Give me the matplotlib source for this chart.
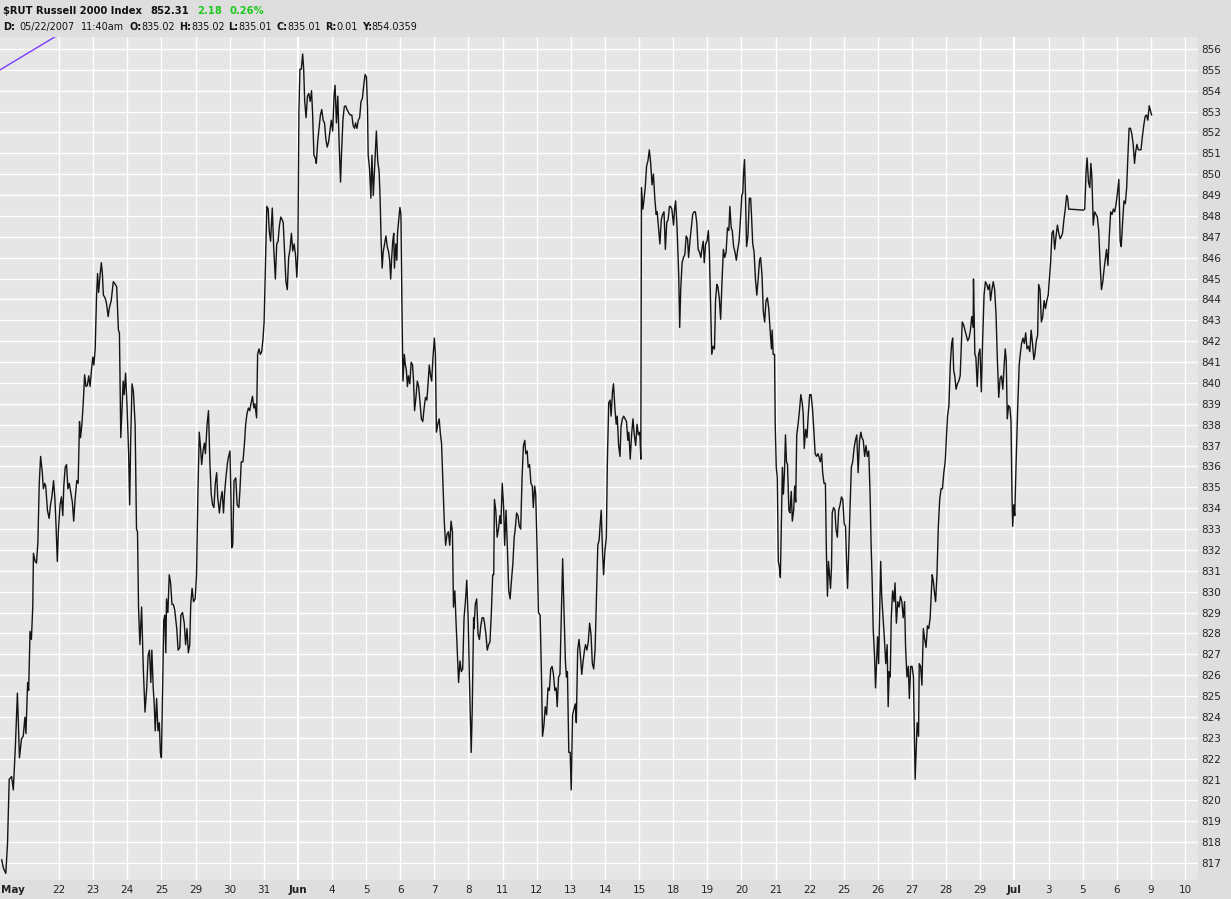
import matplotlib
matplotlib.use('Agg')
import matplotlib.pyplot as plt

# x axis: trading-day index (0 = May 21 ... 34 = Jul 10), y axis: index level
day_labels = ['May', '22', '23', '24', '25', '29', '30', '31', 'Jun', '4', '5', '6', '7', '8',
              '11', '12', '13', '14', '15', '18', '19', '20', '21', '22', '25', '26', '27',
              '28', '29', 'Jul', '3', '5', '6', '9', '10']
month_labels = ['May', 'Jun', 'Jul']
y_ticks = list(range(817, 857))

# $RUT intraday trace: (day index, level)
may_pts = [
    (-0.68, 817.15), (-0.63, 816.76), (-0.56, 816.5), (-0.51, 817.92), (-0.46, 821.01), (-0.39, 821.14),
    (-0.34, 820.5), (-0.28, 822.56), (-0.22, 825.14), (-0.16, 822.04), (-0.10, 822.95), (-0.05, 823.07),
    (0.00, 823.98), (0.03, 823.2), (0.08, 825.65), (0.11, 825.27), (0.15, 828.1), (0.19, 827.71),
    (0.23, 829.26), (0.25, 831.84), (0.30, 831.45), (0.34, 831.37), (0.38, 832.35), (0.42, 835.19),
    (0.46, 836.48), (0.51, 835.7), (0.54, 834.93), (0.58, 835.19), (0.61, 835.06), (0.66, 833.9),
    (0.71, 833.51), (0.75, 834.16), (0.79, 834.54), (0.84, 835.32), (0.88, 834.42), (0.91, 833.26),
    (0.95, 831.45), (0.98, 832.87), (1.03, 834.16), (1.07, 834.54), (1.11, 833.64), (1.14, 835.06),
    (1.18, 835.96), (1.22, 836.09), (1.26, 834.93), (1.30, 835.19), (1.34, 834.8), (1.39, 834.29),
    (1.43, 833.38), (1.47, 834.42), (1.52, 835.32), (1.56, 835.19), (1.60, 838.15), (1.63, 837.38),
    (1.67, 838.02), (1.71, 839.05), (1.75, 840.39), (1.79, 839.83), (1.83, 839.88), (1.87, 840.34),
    (1.91, 839.83), (1.95, 840.6), (1.99, 841.24), (2.02, 840.86), (2.06, 841.63), (2.10, 844.21),
    (2.13, 845.24), (2.16, 844.34), (2.20, 845.11), (2.24, 845.76), (2.27, 845.24), (2.30, 844.21),
    (2.35, 844.08), (2.39, 843.82), (2.44, 843.18), (2.47, 843.56), (2.53, 843.95), (2.59, 844.85),
    (2.63, 844.78), (2.69, 844.6), (2.74, 842.53), (2.77, 842.4), (2.81, 837.38), (2.85, 838.92),
    (2.88, 840.09), (2.91, 839.44), (2.95, 840.47), (2.99, 839.05), (3.04, 836.61), (3.07, 834.16),
    (3.10, 837.25), (3.14, 839.96), (3.18, 839.57), (3.23, 838.02), (3.27, 833.0), (3.30, 832.87),
    (3.33, 829.26), (3.37, 827.46), (3.42, 829.26), (3.47, 826.3), (3.52, 824.23), (3.57, 825.39),
    (3.61, 826.94), (3.65, 827.2), (3.69, 825.65), (3.72, 827.2), (3.76, 825.39), (3.79, 824.62),
    (3.82, 823.33), (3.86, 824.88), (3.90, 823.33), (3.94, 823.72), (3.97, 822.3), (4.00, 822.04),
    (4.04, 825.65), (4.07, 828.62), (4.10, 828.87), (4.13, 827.07), (4.15, 829.65), (4.19, 829.0),
    (4.23, 830.81), (4.27, 830.42), (4.31, 829.39), (4.35, 829.39), (4.39, 829.13), (4.45, 828.23),
    (4.49, 827.2), (4.54, 827.33), (4.57, 828.87), (4.62, 829.0), (4.67, 828.49), (4.71, 827.46),
    (4.75, 828.23), (4.79, 827.07), (4.83, 827.46), (4.86, 829.39), (4.90, 830.16), (4.94, 829.52),
    (4.99, 829.65), (5.03, 830.81), (5.07, 834.67), (5.11, 837.64), (5.15, 836.86), (5.18, 836.09),
    (5.22, 836.74), (5.26, 837.12), (5.29, 836.61), (5.34, 838.02), (5.38, 838.67), (5.42, 836.22),
    (5.46, 834.67), (5.50, 834.16), (5.54, 834.03), (5.58, 835.19), (5.62, 835.7), (5.65, 834.54),
    (5.70, 833.77), (5.74, 834.42), (5.78, 834.8), (5.82, 833.77), (5.85, 834.67), (5.89, 835.45),
    (5.94, 836.22), (5.97, 836.48), (6.01, 836.74), (6.04, 834.42), (6.06, 832.1), (6.09, 832.22),
    (6.13, 835.32), (6.18, 835.45), (6.22, 834.16), (6.27, 834.03), (6.30, 834.8), (6.34, 836.22),
    (6.39, 836.22), (6.43, 837.0), (6.47, 838.02), (6.51, 838.54), (6.55, 838.8), (6.59, 838.67),
    (6.63, 839.05), (6.67, 839.36), (6.71, 838.8), (6.74, 839.0), (6.79, 838.33), (6.82, 841.37),
    (6.86, 841.63), (6.90, 841.37), (6.94, 841.5), (6.98, 842.15), (7.01, 842.92), (7.05, 845.76),
    (7.09, 848.46), (7.13, 848.33), (7.16, 847.3), (7.20, 846.79), (7.25, 848.38), (7.29, 846.53),
    (7.34, 844.98), (7.38, 846.66), (7.42, 846.79), (7.46, 847.56), (7.50, 847.95), (7.54, 847.82),
    (7.57, 847.69), (7.61, 846.27), (7.65, 844.85), (7.69, 844.47), (7.73, 846.01), (7.77, 846.4),
    (7.81, 847.17), (7.85, 846.32), (7.89, 846.66), (7.93, 846.14), (7.97, 845.06),
]

jun_early_pts = [
    (8.00, 846.27), (8.03, 852.97), (8.06, 855.03), (8.10, 855.03), (8.14, 855.76), (8.17, 855.03),
    (8.20, 853.49), (8.24, 852.71), (8.28, 853.74), (8.32, 853.87), (8.36, 853.49), (8.40, 854.0),
    (8.43, 852.97), (8.47, 850.91), (8.51, 850.78), (8.54, 850.52), (8.58, 851.55), (8.62, 852.2),
    (8.66, 852.84), (8.70, 853.1), (8.74, 852.59), (8.78, 852.46), (8.82, 851.68), (8.86, 851.3),
    (8.90, 851.55), (8.94, 852.07), (8.98, 852.59), (9.02, 852.07), (9.06, 853.74), (9.09, 854.26),
    (9.13, 852.46), (9.17, 853.74), (9.21, 851.43), (9.25, 849.62), (9.28, 851.04), (9.32, 852.59),
    (9.36, 853.23), (9.40, 853.28), (9.44, 853.1), (9.48, 852.97), (9.53, 852.84), (9.58, 852.84),
    (9.62, 852.33), (9.66, 852.2), (9.69, 852.46), (9.73, 852.2), (9.77, 852.59), (9.81, 852.71),
    (9.85, 853.49), (9.89, 853.62), (9.93, 854.26), (9.97, 854.78), (10.01, 854.65), (10.04, 853.23),
    (10.06, 850.91), (10.10, 850.27), (10.14, 848.85), (10.17, 850.91), (10.21, 848.98), (10.25, 850.39),
    (10.30, 852.07), (10.34, 850.65), (10.38, 850.14), (10.41, 848.85), (10.44, 846.79), (10.47, 845.5),
    (10.50, 846.27), (10.54, 846.66), (10.58, 847.04), (10.62, 846.53), (10.66, 846.27), (10.69, 845.88),
    (10.72, 844.98), (10.75, 846.01), (10.78, 846.79), (10.81, 847.17), (10.83, 845.5), (10.87, 846.66),
    (10.90, 845.88), (10.92, 847.17), (10.95, 847.69), (10.99, 848.41), (11.02, 848.07), (11.05, 843.69),
    (11.08, 840.09), (11.12, 841.37), (11.15, 840.86), (11.18, 840.6), (11.21, 839.83), (11.24, 840.34),
    (11.28, 839.96), (11.32, 840.99), (11.36, 840.86), (11.39, 840.09), (11.42, 838.67), (11.46, 839.31),
    (11.50, 840.09), (11.54, 839.83), (11.58, 839.05), (11.62, 838.28), (11.66, 838.15), (11.70, 838.8),
    (11.74, 839.31), (11.78, 839.18), (11.81, 839.83), (11.85, 840.86), (11.89, 840.34), (11.92, 840.09),
    (11.96, 841.24), (12.00, 842.15), (12.03, 841.37), (12.06, 837.64), (12.10, 838.02), (12.14, 838.28),
    (12.18, 837.51), (12.21, 837.12), (12.25, 835.19), (12.29, 833.38), (12.33, 832.22), (12.37, 832.74),
    (12.41, 832.87), (12.45, 832.22), (12.49, 833.38), (12.53, 832.87), (12.56, 829.26), (12.60, 830.04),
    (12.63, 828.75), (12.67, 827.2), (12.71, 825.65), (12.75, 826.68), (12.79, 826.17), (12.83, 826.3),
    (12.87, 828.75), (12.91, 829.52), (12.95, 830.55), (12.99, 828.75), (13.03, 825.65), (13.06, 823.59),
    (13.08, 822.3), (13.11, 824.36), (13.15, 828.75), (13.16, 828.23), (13.20, 829.39), (13.24, 829.65),
    (13.28, 827.97), (13.32, 827.71), (13.36, 828.36), (13.40, 828.75), (13.44, 828.75), (13.47, 828.49),
    (13.51, 827.97), (13.55, 827.2), (13.59, 827.46), (13.63, 827.59), (13.67, 829.0), (13.71, 830.81),
    (13.74, 830.81), (13.76, 834.42), (13.80, 833.9), (13.84, 832.61), (13.88, 833.0), (13.92, 833.64),
    (13.95, 833.26), (13.99, 835.19), (14.03, 834.03), (14.06, 832.22), (14.10, 833.9), (14.14, 832.1),
    (14.18, 830.04), (14.22, 829.65), (14.26, 830.55), (14.30, 831.33), (14.34, 832.61), (14.37, 833.0),
    (14.41, 833.77), (14.45, 833.64), (14.49, 833.13), (14.53, 833.0), (14.57, 835.45), (14.61, 837.0),
    (14.65, 837.25), (14.68, 836.61), (14.72, 836.74), (14.75, 835.96), (14.79, 836.09), (14.83, 835.19),
    (14.87, 835.06), (14.90, 834.03), (14.94, 835.06), (14.97, 834.67), (15.01, 832.1), (15.05, 829.0),
    (15.10, 828.87), (15.14, 825.91), (15.17, 823.07), (15.21, 823.59), (15.25, 824.49), (15.29, 824.1),
    (15.33, 825.39), (15.37, 825.27), (15.41, 826.3), (15.45, 826.42), (15.49, 826.04), (15.53, 825.27),
    (15.57, 825.39), (15.60, 824.49), (15.64, 825.91), (15.68, 826.04), (15.72, 828.75), (15.76, 831.58),
    (15.80, 829.0), (15.84, 826.68), (15.87, 825.91), (15.90, 826.17), (15.94, 822.3), (15.98, 822.3),
    (16.01, 820.5), (16.05, 824.1), (16.09, 824.36), (16.13, 824.62), (16.16, 823.72), (16.20, 827.2),
    (16.24, 827.71), (16.28, 826.94), (16.32, 826.04), (16.36, 826.68), (16.40, 827.2), (16.43, 827.46),
    (16.47, 827.2), (16.51, 827.59), (16.55, 828.49), (16.59, 827.97), (16.63, 826.55), (16.67, 826.3),
    (16.71, 827.2), (16.75, 829.78), (16.79, 832.22), (16.83, 832.48), (16.86, 833.26), (16.89, 833.9),
    (16.93, 831.84), (16.96, 830.81), (17.00, 831.97), (17.04, 832.61), (17.07, 836.22), (17.11, 839.05),
    (17.15, 839.18), (17.18, 838.41), (17.22, 839.57), (17.25, 839.96), (17.29, 838.8), (17.33, 838.02),
    (17.36, 838.41), (17.40, 837.0), (17.44, 836.48), (17.47, 837.9), (17.51, 838.28), (17.55, 838.41),
    (17.59, 838.28), (17.63, 838.15), (17.67, 837.25), (17.70, 837.64), (17.74, 836.35), (17.78, 837.51),
    (17.82, 838.28), (17.86, 837.51), (17.90, 837.0), (17.94, 838.02), (17.98, 837.51), (18.02, 837.64),
    (18.05, 836.35),
]

jun_late_pts = [
    (18.07, 849.36), (18.11, 848.33), (18.14, 848.72), (18.18, 849.36), (18.22, 850.39), (18.26, 850.65),
    (18.30, 851.17), (18.34, 850.52), (18.38, 849.49), (18.42, 850.01), (18.46, 848.85), (18.50, 848.07),
    (18.53, 848.2), (18.57, 847.43), (18.61, 846.66), (18.65, 847.82), (18.69, 848.07), (18.73, 848.2),
    (18.77, 846.4), (18.81, 847.69), (18.85, 847.82), (18.89, 848.46), (18.92, 848.46), (18.96, 848.33),
    (19.01, 847.56), (19.04, 848.33), (19.07, 848.72), (19.11, 847.56), (19.16, 845.24), (19.19, 842.66),
    (19.22, 844.47), (19.26, 845.76), (19.30, 846.01), (19.34, 846.14), (19.38, 847.04), (19.42, 846.91),
    (19.45, 846.01), (19.49, 846.79), (19.53, 847.43), (19.57, 848.07), (19.61, 848.2), (19.65, 848.2),
    (19.69, 847.69), (19.73, 846.4), (19.77, 846.27), (19.81, 846.01), (19.84, 846.4), (19.88, 846.79),
    (19.91, 845.76), (19.95, 846.66), (19.99, 846.79), (20.03, 847.3), (20.06, 846.27), (20.09, 844.21),
    (20.13, 841.37), (20.17, 841.76), (20.21, 841.63), (20.24, 843.95), (20.28, 844.72), (20.31, 844.6),
    (20.35, 844.08), (20.39, 843.05), (20.43, 844.85), (20.47, 846.4), (20.51, 846.01), (20.55, 846.27),
    (20.59, 847.43), (20.63, 847.3), (20.66, 848.46), (20.70, 847.43), (20.73, 847.3), (20.77, 846.53),
    (20.81, 846.27), (20.85, 845.88), (20.89, 846.4), (20.93, 846.79), (20.97, 847.82), (21.01, 848.98),
    (21.04, 849.11), (21.06, 850.01), (21.09, 850.7), (21.12, 848.85), (21.15, 846.53), (21.19, 847.04),
    (21.23, 848.85), (21.27, 848.85), (21.30, 847.82), (21.33, 846.66), (21.37, 846.27), (21.41, 844.98),
    (21.45, 844.21), (21.49, 844.98), (21.53, 845.88), (21.56, 846.01), (21.60, 845.24), (21.64, 843.44),
    (21.68, 842.92), (21.72, 843.95), (21.76, 844.08), (21.80, 843.56), (21.84, 842.53), (21.88, 841.63),
    (21.90, 842.53), (21.93, 841.37), (21.97, 841.37), (21.99, 838.02), (22.02, 835.96), (22.05, 835.45),
    (22.08, 831.45), (22.11, 831.2), (22.14, 830.68), (22.17, 833.38), (22.20, 835.96), (22.23, 834.67),
    (22.26, 835.7), (22.29, 837.51), (22.32, 836.22), (22.35, 836.09), (22.39, 833.9), (22.42, 833.77),
    (22.46, 834.8), (22.49, 833.38), (22.53, 833.9), (22.56, 835.06), (22.59, 834.29), (22.62, 837.51),
    (22.66, 838.02), (22.70, 838.67), (22.74, 839.44), (22.78, 839.05), (22.81, 838.54), (22.84, 836.86),
    (22.88, 837.77), (22.92, 837.38), (22.96, 838.54), (23.00, 839.44), (23.04, 839.44), (23.08, 838.8),
    (23.12, 837.77), (23.16, 836.61), (23.20, 836.48), (23.24, 836.61), (23.27, 836.48), (23.31, 836.22),
    (23.35, 836.61), (23.38, 835.7), (23.42, 835.19), (23.46, 835.19), (23.49, 831.84), (23.52, 829.78),
    (23.55, 831.45), (23.58, 830.81), (23.61, 830.16), (23.64, 831.2), (23.66, 833.77), (23.70, 834.03),
    (23.74, 833.9), (23.77, 833.0), (23.81, 832.61), (23.85, 833.9), (23.89, 834.16), (23.93, 834.54),
    (23.97, 834.42), (24.01, 833.26), (24.05, 833.13), (24.08, 831.45), (24.11, 830.16), (24.15, 832.35),
    (24.18, 833.9), (24.22, 835.96), (24.26, 836.22), (24.30, 836.86), (24.34, 837.25), (24.38, 837.51),
    (24.42, 835.7), (24.46, 837.25), (24.50, 837.64), (24.53, 837.38), (24.57, 837.25), (24.61, 836.48),
    (24.65, 837.0), (24.69, 836.48), (24.73, 836.74), (24.77, 834.67), (24.80, 832.22), (24.83, 830.55),
    (24.86, 828.23), (24.90, 826.94), (24.93, 825.39), (24.96, 826.68), (24.99, 827.84), (25.02, 826.55),
    (25.05, 829.0), (25.08, 831.45), (25.11, 829.78), (25.15, 828.75), (25.19, 827.71), (25.23, 826.55),
    (25.27, 827.46), (25.30, 824.49), (25.33, 826.17), (25.36, 825.91), (25.39, 828.75), (25.43, 830.04),
    (25.47, 829.52), (25.50, 830.42), (25.54, 828.49), (25.58, 829.52), (25.62, 829.26), (25.66, 829.78),
    (25.70, 829.52), (25.74, 828.75), (25.78, 829.52), (25.81, 827.33), (25.85, 825.91), (25.89, 826.42),
    (25.92, 824.88), (25.96, 826.42), (26.00, 826.42), (26.04, 825.91), (26.07, 823.07), (26.09, 821.01),
    (26.12, 822.3), (26.15, 823.72), (26.19, 823.07), (26.21, 826.55), (26.25, 826.42), (26.29, 825.52),
    (26.33, 828.23), (26.37, 827.71), (26.41, 827.33), (26.45, 828.36), (26.49, 828.23), (26.53, 828.75),
    (26.56, 829.78), (26.59, 830.81), (26.62, 830.55), (26.66, 829.91), (26.69, 829.52), (26.73, 830.81),
    (26.77, 833.13), (26.81, 834.42), (26.85, 834.93), (26.89, 834.93), (26.93, 835.7), (26.97, 836.22),
    (26.98, 836.48), (27.01, 837.51), (27.04, 838.41), (27.08, 838.92), (27.12, 840.86), (27.16, 841.89),
    (27.19, 842.15), (27.22, 840.6), (27.25, 840.34), (27.29, 839.7), (27.33, 839.96), (27.37, 840.09),
    (27.41, 840.34), (27.44, 841.63), (27.47, 842.92), (27.51, 842.79), (27.55, 842.53), (27.59, 842.28),
    (27.63, 842.02), (27.67, 842.15), (27.71, 842.53), (27.75, 843.18), (27.79, 842.66), (27.80, 844.98),
    (27.84, 841.37), (27.87, 841.24), (27.91, 839.83), (27.95, 841.37), (27.99, 841.63), (28.03, 839.57),
    (28.07, 842.15), (28.11, 844.21), (28.15, 844.85), (28.19, 844.72), (28.23, 844.47), (28.27, 844.72),
    (28.30, 843.95), (28.34, 844.47), (28.38, 844.85), (28.42, 844.47), (28.46, 843.31), (28.50, 841.12),
    (28.54, 839.31), (28.58, 840.22), (28.62, 840.34), (28.66, 839.7), (28.70, 840.86), (28.73, 841.63),
    (28.76, 841.12), (28.79, 838.28), (28.83, 838.92), (28.87, 838.8), (28.90, 838.15), (28.93, 834.42),
    (28.95, 833.13), (28.98, 834.16),
]

jul_pts = [
    (29.01, 833.64), (29.05, 836.22), (29.10, 839.05), (29.14, 840.86), (29.17, 841.37), (29.21, 841.89),
    (29.25, 842.15), (29.29, 841.89), (29.33, 842.4), (29.37, 841.63), (29.41, 841.76), (29.45, 841.5),
    (29.49, 842.53), (29.53, 841.89), (29.57, 841.12), (29.60, 841.37), (29.64, 842.02), (29.68, 842.28),
    (29.71, 844.72), (29.75, 844.47), (29.79, 842.92), (29.83, 843.18), (29.87, 843.95), (29.91, 843.56),
    (29.95, 843.95), (29.99, 844.21), (30.02, 844.85), (30.06, 845.76), (30.10, 847.17), (30.14, 847.3),
    (30.18, 846.4), (30.22, 847.04), (30.26, 847.56), (30.30, 847.17), (30.34, 846.91), (30.38, 847.04),
    (30.41, 847.17), (30.45, 847.82), (30.49, 848.33), (30.53, 848.98), (30.56, 848.85), (30.59, 848.33),
    (31.02, 848.28), (31.06, 848.33), (31.10, 850.14), (31.13, 850.78), (31.17, 849.62), (31.21, 849.36),
    (31.24, 850.52), (31.27, 849.88), (31.31, 847.56), (31.35, 848.2), (31.39, 848.07), (31.43, 847.95),
    (31.47, 847.3), (31.51, 845.76), (31.55, 844.47), (31.59, 844.85), (31.63, 845.5), (31.67, 846.01),
    (31.70, 846.4), (31.74, 845.63), (31.78, 847.04), (31.82, 848.2), (31.86, 848.07), (31.90, 848.33),
    (31.94, 848.2), (31.98, 848.59), (32.02, 849.11), (32.06, 849.75), (32.10, 846.79), (32.13, 846.53),
    (32.17, 847.69), (32.21, 848.72), (32.25, 848.59), (32.29, 849.36), (32.32, 850.65), (32.36, 852.2),
    (32.40, 852.2), (32.44, 851.94), (32.48, 851.43), (32.52, 850.52), (32.55, 851.04), (32.59, 851.43),
    (32.63, 851.17), (32.67, 851.17), (32.71, 851.17), (32.75, 851.81), (32.79, 852.33), (32.83, 852.77),
    (32.87, 852.84), (32.91, 852.59), (32.95, 853.28), (32.98, 853.1), (33.02, 852.84),
]

# purple trendline drawn on the chart (runs off the top)
trend_days = [-0.73, 1.0]
trend_levels = [855.0, 856.7]

W, H = 1231, 899
X_MIN, X_MAX = -0.73, 34.38
Y_MIN, Y_MAX = 816.185, 856.575

fig = plt.figure(figsize=(W / 100, H / 100), dpi=100)
fig.patch.set_facecolor('#dedede')

ax = fig.add_axes([0, 19 / H, 1198 / W, (880 - 37) / H])
ax.set_facecolor('#e6e6e6')
for s in ax.spines.values():
    s.set_visible(False)

ax.set_xlim(X_MIN, X_MAX)
ax.set_ylim(Y_MIN, Y_MAX)

# horizontal grid at every point
for y in y_ticks:
    ax.axhline(y, color='white', lw=1.0, zorder=1)
# vertical grid at each session start, brighter at month starts
for i, lab in enumerate(day_labels):
    if i == 0:
        continue
    lw = 1.6 if lab in month_labels else 1.0
    ax.axvline(i, color='white', lw=lw, zorder=1)

all_pts = may_pts + jun_early_pts + jun_late_pts + jul_pts
days = [p[0] for p in all_pts]
levels = [p[1] for p in all_pts]
ax.plot(days, levels, color='#141414', lw=1.0, zorder=3)
ax.plot(trend_days, trend_levels, color='#7a3cff', lw=1.0, zorder=3)

# y labels on the right
ax.yaxis.tick_right()
ax.set_yticks(y_ticks)
ax.set_yticklabels([str(v) for v in y_ticks])
ax.tick_params(axis='y', length=0, pad=2, labelsize=7.5, labelcolor='#222222')

# x labels: first one pinned to the left edge
xt = [X_MIN + 0.02] + list(range(1, len(day_labels)))
ax.set_xticks(xt)
ax.set_xticklabels(day_labels)
ax.tick_params(axis='x', length=0, pad=3.5, labelsize=7.5, labelcolor='#222222')
for i, t in enumerate(ax.get_xticklabels()):
    if day_labels[i] in month_labels:
        t.set_fontweight('bold')
    if i == 0:
        t.set_ha('left')

# header, laid out piece by piece
renderer = fig.canvas.get_renderer()


def header_line(py, pieces, size):
    x = 3
    for gap, s, bold, color in pieces:
        x += gap
        t = fig.text(x / W, 1 - py / H, s, va='center', ha='left', fontsize=size,
                     fontweight='bold' if bold else 'normal', color=color)
        bb = t.get_window_extent(renderer)
        x = bb.x1


ink = '#111111'
green = '#1ec81e'
header_line(11, [(0, '$RUT Russell 2000 Index', True, ink), (8, '852.31', True, ink),
                 (8, '2.18', True, green), (8, '0.26%', True, green)], 7.2)
header_line(27, [(0, 'D:', True, ink), (4, '05/22/2007', False, ink), (7, '11:40am', False, ink),
                 (5, 'O:', True, ink), (0, '835.02', False, ink), (4, 'H:', True, ink),
                 (0, '835.02', False, ink), (4, 'L:', True, ink), (0, '835.01', False, ink),
                 (4, 'C:', True, ink), (0, '835.01', False, ink), (4, 'R:', True, ink),
                 (0, '0.01', False, ink), (4, 'Y:', True, ink), (0, '854.0359', False, ink)], 6.9)

fig.savefig('out.png', dpi=100, facecolor=fig.get_facecolor())
